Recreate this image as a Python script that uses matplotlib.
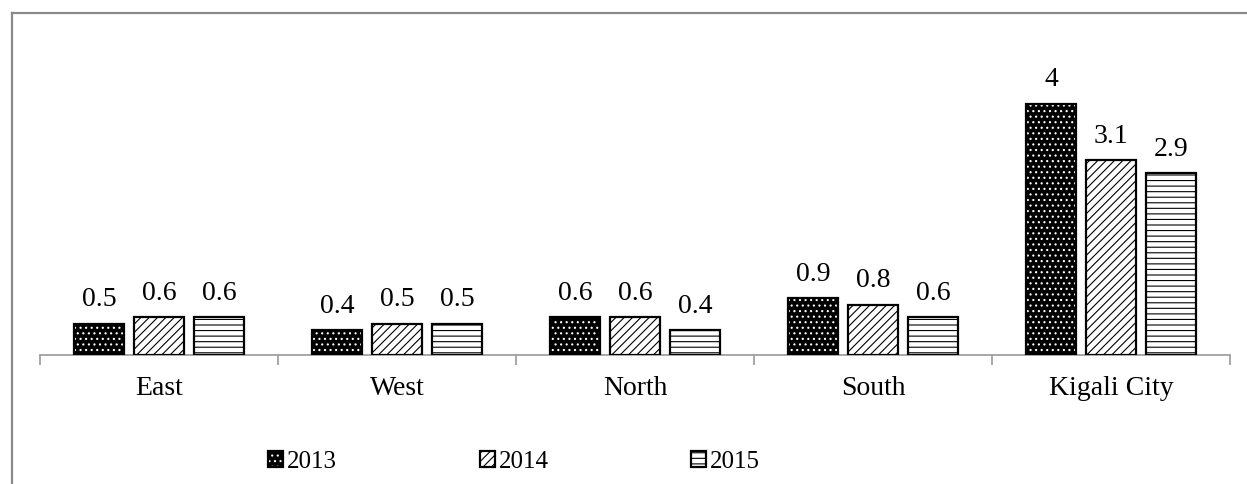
import matplotlib
matplotlib.use("Agg")
import matplotlib.pyplot as plt
from matplotlib.lines import Line2D
import numpy as np

categories = ["East", "West", "North", "South", "Kigali City"]
years = ["2013", "2014", "2015"]
values_2013 = [0.5, 0.4, 0.6, 0.9, 4.0]
values_2014 = [0.6, 0.5, 0.6, 0.8, 3.1]
values_2015 = [0.6, 0.5, 0.4, 0.6, 2.9]
value_labels_2013 = ["0.5", "0.4", "0.6", "0.9", "4"]
value_labels_2014 = ["0.6", "0.5", "0.6", "0.8", "3.1"]
value_labels_2015 = ["0.6", "0.5", "0.4", "0.6", "2.9"]

plt.rcParams['font.family'] = ['Liberation Serif', 'DejaVu Serif']
plt.rcParams['hatch.linewidth'] = 0.8

W, H = 1247, 484
fig = plt.figure(figsize=(W / 100, H / 100), dpi=100)
fig.patch.set_facecolor('white')

# axes: x from 40 to 1230 px, baseline at y=355, top at y=41
ax = fig.add_axes([40 / W, 1 - 355 / H, 1190 / W, 314 / H])

series = [
    (values_2013, value_labels_2013, 'black', 'white', '...'),
    (values_2014, value_labels_2014, 'white', 'black', '////'),
    (values_2015, value_labels_2015, 'white', 'black', '---'),
]
x = np.arange(len(categories))
bar_w = 0.21
step = 0.252
handles = []
for i, (vals, labs, fc, hc, hatch) in enumerate(series):
    pos = x + (i - 1) * step
    hb = ax.bar(pos, vals, width=bar_w, color=fc, edgecolor=hc, hatch=hatch,
                linewidth=0, zorder=2)
    ob = ax.bar(pos, vals, width=bar_w, fill=False, edgecolor='black',
                linewidth=1.6, zorder=3)
    handles.append((hb.patches[0], ob.patches[0]))
    for p, v, t in zip(pos, vals, labs):
        ax.annotate(t, (p, v), xytext=(0, 12.5), textcoords='offset points',
                    ha='center', va='baseline', fontsize=20)

ax.set_xlim(-0.5, len(categories) - 0.5)
ax.set_ylim(0, 5.0)
for s in ['top', 'right', 'left']:
    ax.spines[s].set_visible(False)
ax.spines['bottom'].set_color('#9a9a9a')
ax.spines['bottom'].set_linewidth(1.2)
ax.set_yticks([])
ax.set_xticks(np.arange(len(categories) + 1) - 0.5)
ax.set_xticklabels([])
ax.tick_params(axis='x', which='major', length=7.5, width=1.2, color='#9a9a9a',
               direction='out')
ax.set_xticks(x, minor=True)
ax.set_xticklabels(categories, minor=True, fontsize=20)
ax.tick_params(axis='x', which='minor', length=0, pad=15)

leg = fig.legend(handles, years, loc='center', bbox_to_anchor=(514 / W, 1 - 462 / H),
                 ncol=3, frameon=False, fontsize=18, handlelength=0.6,
                 handleheight=0.6, handletextpad=0.15, columnspacing=5.7,
                 borderpad=0)

# outer frame (partially cropped)
fig.add_artist(Line2D([11.5 / W, 11.5 / W], [0, 1 - 13 / H], transform=fig.transFigure,
                      color='#8a8a8a', linewidth=1.6))
fig.add_artist(Line2D([11.5 / W, 1], [1 - 13 / H, 1 - 13 / H], transform=fig.transFigure,
                      color='#8a8a8a', linewidth=1.6))

fig.savefig('out.png', dpi=100, facecolor='white')
